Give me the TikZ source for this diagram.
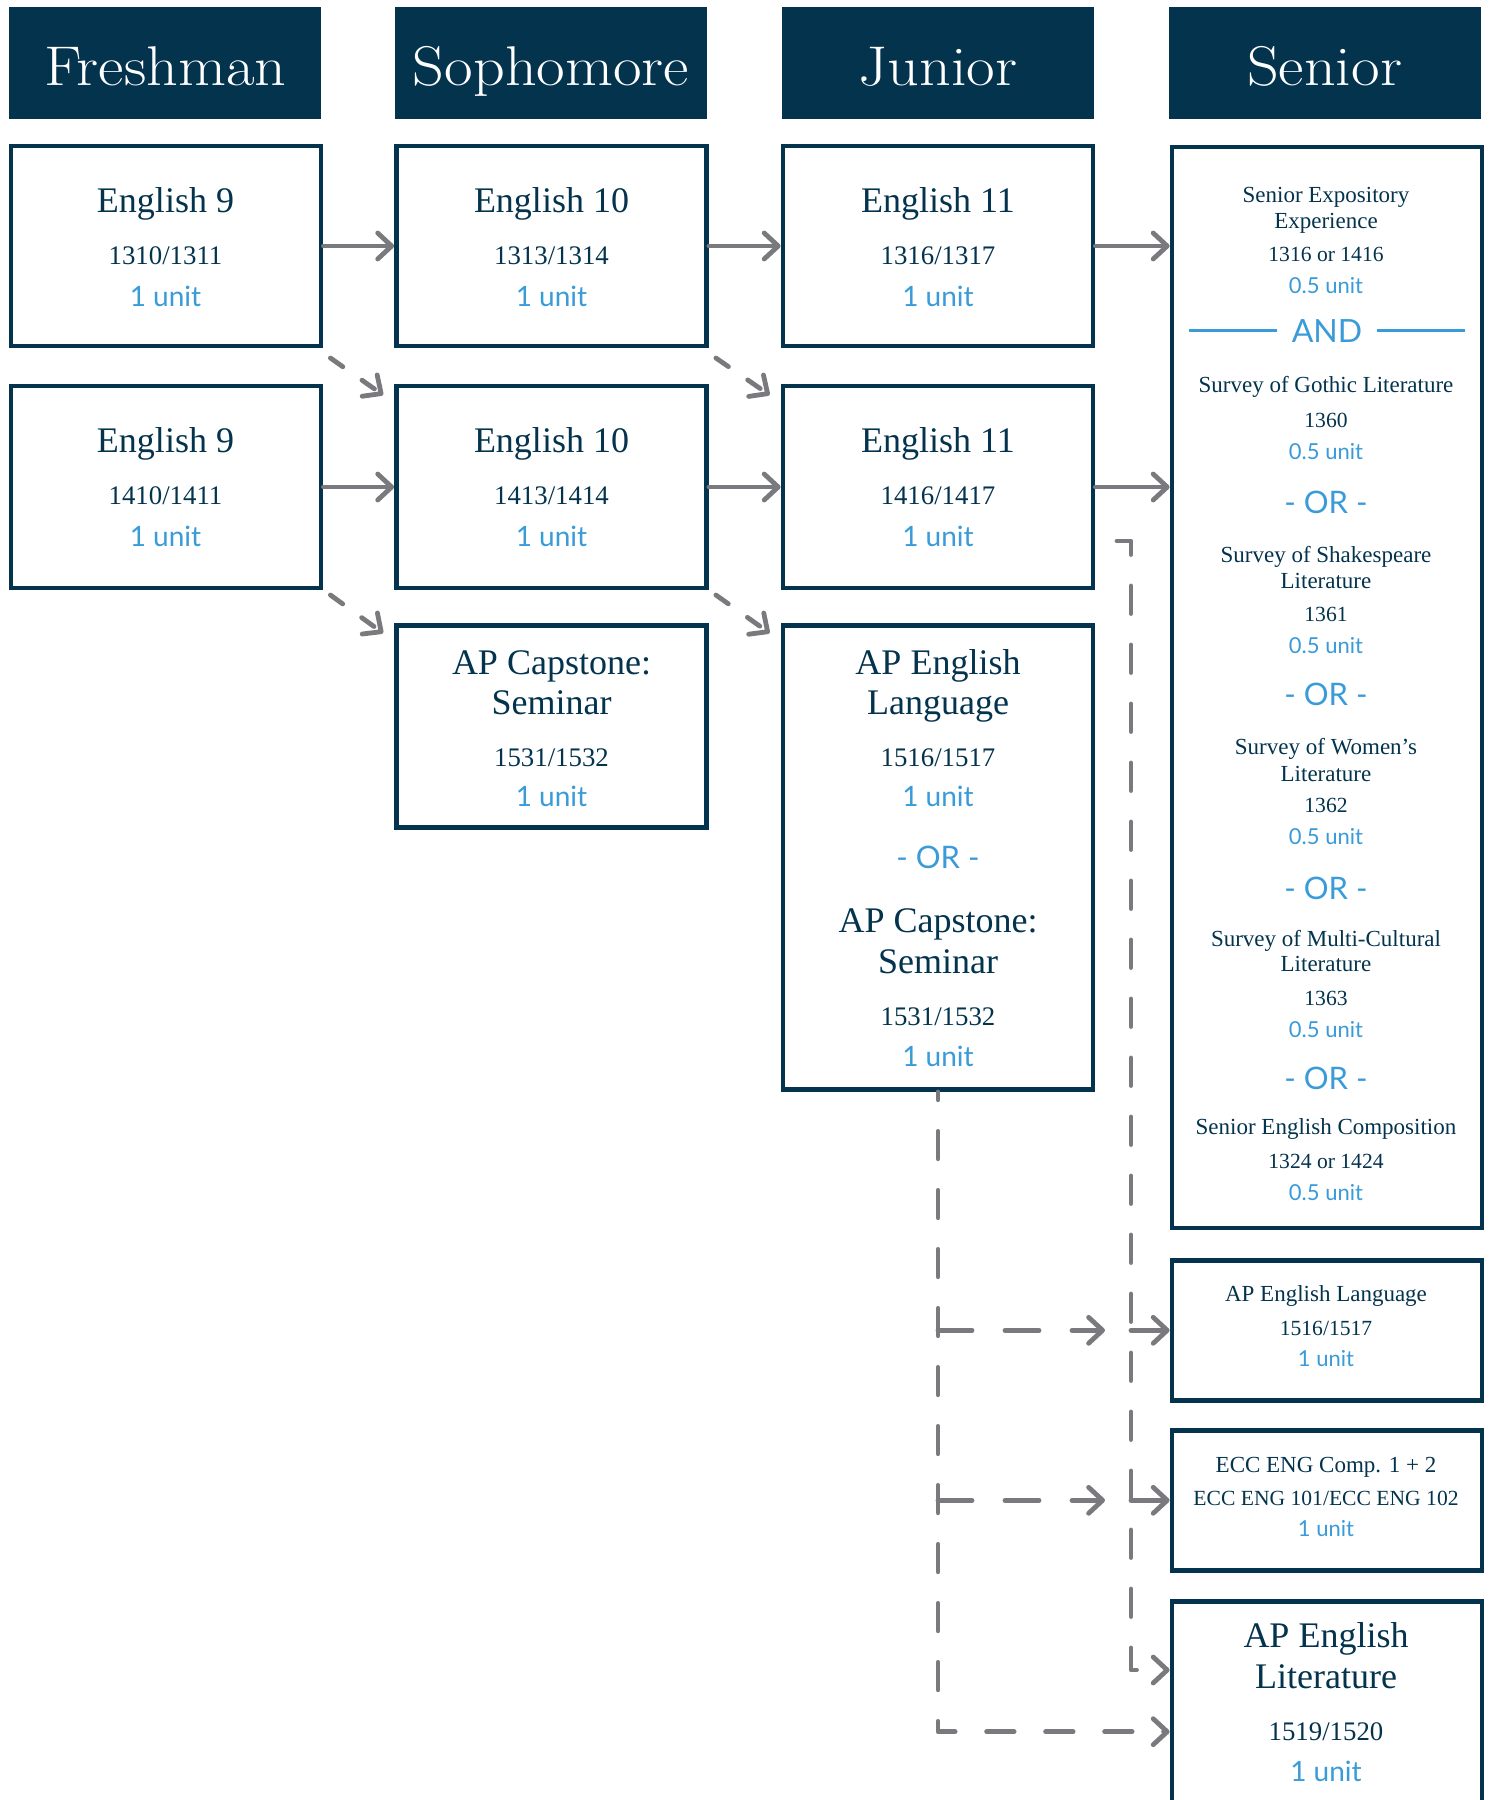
\documentclass[tikz,border=0pt]{standalone}
\usepackage{graphicx}
\usepackage{fontspec}
\newfontfamily\bodyfont{Liberation Serif}
\newfontfamily\latofont{Lato}
\usetikzlibrary{arrows.meta,calc}
\definecolor{navy}{RGB}{3,51,77}
\definecolor{ublue}{RGB}{58,155,217}
\definecolor{agray}{RGB}{122,122,126}
\newcommand\hdrw[1]{\scalebox{1.11}[1]{#1}}
\begin{document}
\begin{tikzpicture}[x=0.5pt,y=-0.5pt,
  hdrbox/.style={fill=navy, minimum width=156pt, minimum height=56.25pt, inner sep=0pt, outer sep=0pt},
  hdrtx/.style={text=white, inner sep=0pt, anchor=base, font=\fontsize{28}{30}\selectfont},
  cbox/.style={draw=navy, line width=2.4pt, fill=white, minimum width=155pt, inner sep=0pt},
  bignm/.style={text=navy, inner sep=0pt, font=\bodyfont\fontsize{18}{20}\selectfont, text height=11.9pt, text depth=0pt},
  cnum/.style={text=navy, inner sep=0pt, font=\bodyfont\fontsize{13.4}{15}\selectfont, text height=8.9pt, text depth=0pt},
  unitb/.style={text=ublue, inner sep=0pt, font=\latofont\fontsize{14}{16}\selectfont, text height=10pt, text depth=0pt},
  smallnm/.style={text=navy, inner sep=0pt, font=\bodyfont\fontsize{11.5}{13}\selectfont, text height=7.6pt, text depth=0pt},
  scnum/.style={text=navy, inner sep=0pt, font=\bodyfont\fontsize{10.8}{12}\selectfont, text height=7.1pt, text depth=0pt},
  sunit/.style={text=ublue, inner sep=0pt, font=\latofont\fontsize{11}{13}\selectfont, text height=7.9pt, text depth=0pt},
  ortx/.style={text=ublue, inner sep=0pt, font=\latofont\fontsize{15.5}{17}\selectfont, text height=11.2pt, text depth=0pt},
  andtx/.style={text=ublue, inner sep=0pt, font=\latofont\fontsize{16}{18}\selectfont, text height=11.5pt, text depth=0pt},
  arr/.style={draw=agray, line width=2.4pt, line cap=round, line join=round, -{Straight Barb[round,length=7pt,width=13pt]}},
  dashv/.style={arr, dash pattern=on 13.75pt off 15.75pt},
  dashd/.style={arr, dash pattern=on 7.6pt off 11.7pt},
  dashh/.style={arr, dash pattern=on 17pt off 16.5pt}
]
\useasboundingbox (0,0) rectangle (1491,1800);
\clip (0,0) rectangle (1491,1800);

% headers
\node[hdrbox] (hF) at (165.3,63.1) {};
\node[hdrbox] (hS) at (551,63.1) {};
\node[hdrbox] (hJ) at (937.8,63.1) {};
\node[hdrbox] (hN) at (1324.6,63.1) {};
\node[hdrtx] (hFt) at (165.3,85) {\hdrw{Freshman}};
\node[hdrtx] (hSt) at (551,85) {\hdrw{Sophomore}};
\node[hdrtx] (hJt) at (937.8,85) {\hdrw{Junior}};
\node[hdrtx] (hNt) at (1324.6,85) {\hdrw{Senior}};

% boxes
\node[cbox, minimum height=100pt] (f1) at (166,246) {};
\node[cbox, minimum height=101pt] (f2) at (166,487) {};
\node[cbox, minimum height=100pt] (s1) at (551.5,246) {};
\node[cbox, minimum height=101pt] (s2) at (551.5,487) {};
\node[cbox, minimum height=101pt] (s3) at (551.5,726.5) {};
\node[cbox, minimum height=100pt] (j1) at (938,246) {};
\node[cbox, minimum height=101pt] (j2) at (938,487) {};
\node[cbox, minimum height=232pt] (j3) at (938,857.5) {};
\node[cbox, minimum height=540.5pt] (sen) at (1327,687.5) {};
\node[cbox, minimum height=70pt] (sal) at (1327,1330.3) {};
\node[cbox, minimum height=70pt] (ecc) at (1327,1500.3) {};
\node[cbox, minimum height=148.5pt] (apl) at (1327,1750) {};

% freshman texts
\node[bignm] (f1a) at (165.5,200.9) {English 9};
\node[cnum] (f1b) at (165.5,256) {1310/1311};
\node[unitb] (f1c) at (165.5,296) {1 unit};
\node[bignm] (f2a) at (165.5,440.8) {English 9};
\node[cnum] (f2b) at (165.5,495.8) {1410/1411};
\node[unitb] (f2c) at (165.5,536) {1 unit};

% sophomore texts
\node[bignm] (s1a) at (551.5,200.9) {English 10};
\node[cnum] (s1b) at (551.5,256) {1313/1314};
\node[unitb] (s1c) at (551.5,296) {1 unit};
\node[bignm] (s2a) at (551.5,440.8) {English 10};
\node[cnum] (s2b) at (551.5,495.8) {1413/1414};
\node[unitb] (s2c) at (551.5,536) {1 unit};
\node[bignm] (s3a) at (551.5,662.3) {AP Capstone:};
\node[bignm] (s3b) at (551.5,702.5) {Seminar};
\node[cnum] (s3c) at (551.5,757.5) {1531/1532};
\node[unitb] (s3d) at (551.5,796.6) {1 unit};

% junior texts
\node[bignm] (j1a) at (938,200.9) {English 11};
\node[cnum] (j1b) at (938,256) {1316/1317};
\node[unitb] (j1c) at (938,296) {1 unit};
\node[bignm] (j2a) at (938,440.8) {English 11};
\node[cnum] (j2b) at (938,495.8) {1416/1417};
\node[unitb] (j2c) at (938,536) {1 unit};
\node[bignm] (j3a) at (938,662.3) {AP English};
\node[bignm] (j3b) at (938,702.5) {Language};
\node[cnum] (j3c) at (938,757.5) {1516/1517};
\node[unitb] (j3d) at (938,796.6) {1 unit};
\node[ortx] (j3e) at (938,857.4) {- OR -};
\node[bignm] (j3f) at (938,920.5) {AP Capstone:};
\node[bignm] (j3g) at (938,961.9) {Seminar};
\node[cnum] (j3h) at (938,1017) {1531/1532};
\node[unitb] (j3i) at (938,1056) {1 unit};

% senior big box texts
\node[smallnm] (t1) at (1326,195.1) {Senior Expository};
\node[smallnm] (t2) at (1326,220.4) {Experience};
\node[scnum] (t3) at (1326,254.8) {1316 or 1416};
\node[sunit] (t4) at (1326,285.8) {0.5 unit};
\node[andtx] (t5) at (1327,330.6) {AND};
\draw[ublue, line width=1.35pt] (1189,330.6) -- (1277,330.6);
\draw[ublue, line width=1.35pt] (1377,330.6) -- (1465,330.6);
\node[smallnm] (t6) at (1326,384.5) {Survey of Gothic Literature};
\node[scnum] (t7) at (1326,420.1) {1360};
\node[sunit] (t8) at (1326,451.1) {0.5 unit};
\node[ortx] (t9) at (1326,502.7) {- OR -};
\node[smallnm] (t10) at (1326,554.4) {Survey of Shakespeare};
\node[smallnm] (t11) at (1326,580.8) {Literature};
\node[scnum] (t12) at (1326,614.1) {1361};
\node[sunit] (t13) at (1326,645.1) {0.5 unit};
\node[ortx] (t14) at (1326,694.4) {- OR -};
\node[smallnm] (t15) at (1326,747.2) {Survey of Women’s};
\node[smallnm] (t16) at (1326,773.6) {Literature};
\node[scnum] (t17) at (1326,805.8) {1362};
\node[sunit] (t18) at (1326,836.7) {0.5 unit};
\node[ortx] (t19) at (1326,888.4) {- OR -};
\node[smallnm] (t20) at (1326,938.9) {Survey of Multi-Cultural};
\node[smallnm] (t21) at (1326,964.2) {Literature};
\node[scnum] (t22) at (1326,998.6) {1363};
\node[sunit] (t23) at (1326,1029.6) {0.5 unit};
\node[ortx] (t24) at (1326,1077.8) {- OR -};
\node[smallnm] (t25) at (1326,1127.1) {Senior English Composition};
\node[scnum] (t26) at (1326,1161.6) {1324 or 1424};
\node[sunit] (t27) at (1326,1192.6) {0.5 unit};

% senior small boxes
\node[smallnm] (sal1) at (1326,1293.6) {AP English Language};
\node[scnum] (sal2) at (1326,1328) {1516/1517};
\node[sunit] (sal3) at (1326,1359) {1 unit};
\node[smallnm] (ecc1) at (1326,1464.6) {ECC ENG Comp. 1 + 2};
\node[scnum] (ecc2) at (1326,1497.9) {ECC ENG 101/ECC ENG 102};
\node[sunit] (ecc3) at (1326,1528.9) {1 unit};
\node[bignm] (apl1) at (1326,1635.6) {AP English};
\node[bignm] (apl2) at (1326,1676.9) {Literature};
\node[cnum] (apl3) at (1326,1732) {1519/1520};
\node[unitb] (apl4) at (1326,1771) {1 unit};

% solid arrows
\draw[arr] (f1.east) -- (s1.west);
\draw[arr] (s1.east) -- (j1.west);
\draw[arr] (j1.east) -- (j1.east -| sen.west);
\draw[arr] (f2.east) -- (s2.west);
\draw[arr] (s2.east) -- (j2.west);
\draw[arr] (j2.east) -- (j2.east -| sen.west);

% diagonal dashed arrows
\coordinate (d1a) at ($(f1.south east)+(7,9.6)$);
\coordinate (d1b) at ($(s2.north west)+(-11,11.4)$);
\coordinate (d2a) at ($(f2.south east)+(7,4.6)$);
\coordinate (d2b) at ($(s3.north west)+(-11,10)$);
\coordinate (d3a) at ($(s1.south east)+(7,9.6)$);
\coordinate (d3b) at ($(j2.north west)+(-11,11.4)$);
\coordinate (d4a) at ($(s2.south east)+(7,4.6)$);
\coordinate (d4b) at ($(j3.north west)+(-11,10)$);
\draw[dashd] (d1a) -- (d1b);
\draw[dashd] (d2a) -- (d2b);
\draw[dashd] (d3a) -- (d3b);
\draw[dashd] (d4a) -- (d4b);

% right dashed line
\coordinate (rh) at (1117,541);
\coordinate (rc) at (1131,1670);
\draw[dashv] (rh) -| (rc) -- (rc -| apl.west);
\draw[arr] (rc |- sal.west) -- (sal.west);
\draw[arr] (rc |- ecc.west) -- (ecc.west);

% left dashed line
\coordinate (lc) at (938,1731.7);
\draw[dashv, dash phase=9.8pt] (j3.south) -- (lc) -- (lc -| apl.west);
\coordinate (ta) at (1105,1330.3);
\coordinate (tb) at (1105,1500.3);
\draw[dashh] (j3.south |- ta) -- (ta);
\draw[dashh] (j3.south |- tb) -- (tb);
\end{tikzpicture}
\end{document}
